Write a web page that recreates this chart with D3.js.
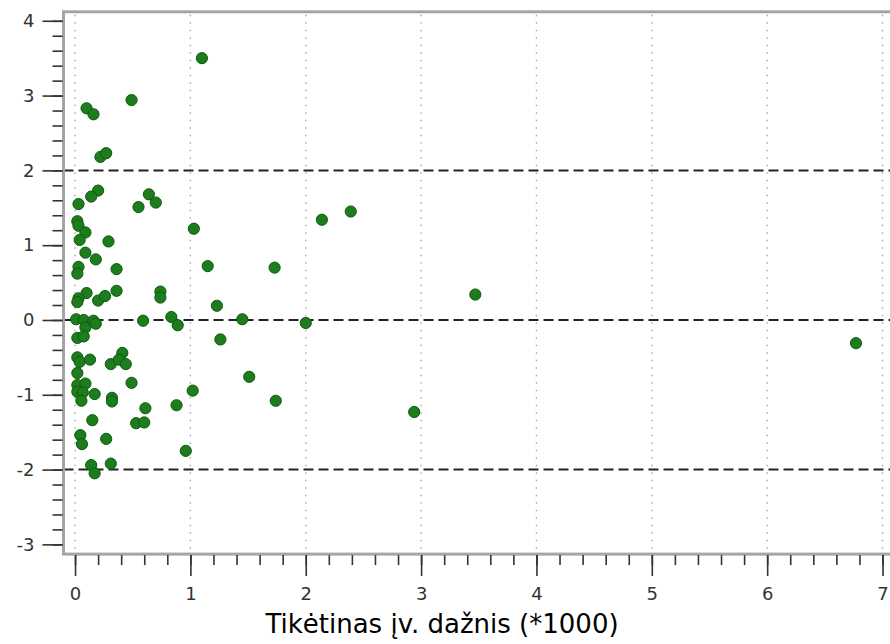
<!DOCTYPE html>
<html>
<head>
<meta charset="utf-8">
<script src="https://cdn.jsdelivr.net/npm/d3@7"></script>
<style>
  html, body { margin: 0; padding: 0; background: #fff; }
  svg { display: block; font-family: "DejaVu Sans", Verdana, sans-serif; }
</style>
</head>
<body>
<div id="chart"></div>
<script>
// tikėtinas įvykių dažnis (*1000) ir standartizuota liekana
const expected = [
  1.10, 0.49, 0.10, 0.16, 0.22, 0.27, 0.20, 0.14, 0.03, 0.64,
  0.70, 0.55, 0.02, 0.03, 0.09, 0.04, 0.29, 1.03, 2.14, 2.39,
  0.09, 0.18, 0.03, 0.02, 0.36, 1.15, 1.73, 0.10, 0.03, 0.02,
  0.20, 0.26, 0.36, 0.74, 0.74, 1.23, 3.47, 0.01, 0.075, 0.09,
  0.16, 0.18, 0.59, 0.835, 0.89, 1.45, 2.00, 1.26, 6.77, 0.02,
  0.075, 0.02, 0.04, 0.13, 0.31, 0.41, 0.38, 0.44, 0.02, 0.02,
  0.09, 0.02, 0.067, 0.17, 0.055, 0.32, 0.32, 0.49, 1.51, 1.02,
  0.88, 1.74, 0.61, 0.53, 0.60, 0.15, 0.046, 0.06, 0.27, 0.96,
  0.14, 0.17, 0.31, 2.94
];
const residual = [
  3.50, 2.94, 2.83, 2.75, 2.18, 2.23, 1.73, 1.65, 1.55, 1.68,
  1.57, 1.51, 1.32, 1.26, 1.17, 1.07, 1.05, 1.22, 1.34, 1.45,
  0.90, 0.81, 0.71, 0.62, 0.68, 0.72, 0.70, 0.36, 0.29, 0.24,
  0.26, 0.32, 0.39, 0.38, 0.30, 0.19, 0.34, 0.01, 0.00, -0.10,
  -0.01, -0.05, -0.01, 0.04, -0.07, 0.01, -0.04, -0.26, -0.31, -0.24,
  -0.22, -0.50, -0.56, -0.53, -0.59, -0.44, -0.53, -0.59, -0.71, -0.87,
  -0.85, -0.96, -0.97, -0.99, -1.08, -1.04, -1.09, -0.84, -0.76, -0.945,
  -1.14, -1.08, -1.18, -1.38, -1.37, -1.34, -1.54, -1.66, -1.59, -1.75,
  -1.94, -2.05, -1.92, -1.23
];
const xTicks = [0, 1, 2, 3, 4, 5, 6, 7];
const yTicks = [-3, -2, -1, 0, 1, 2, 3, 4];
const refLines = [-2, 0, 2];
const xLabel = "Tikėtinas įv. dažnis (*1000)";

const W = 890, H = 644;
const svg = d3.select("#chart").append("svg").attr("width", W).attr("height", H);

const x = d3.scaleLinear().domain([-0.1, 7.2]).range([63.5, 905.6]);
const y = d3.scaleLinear().domain([-3.13, 4.12]).range([554.1, 11.8]);
const [x0, x1] = x.range(), [yb, yt] = y.range();
const plain = d => String(d);   // hyphen minus, like the original

// vertical dotted grid
svg.append("g").selectAll("line").data(xTicks).join("line")
  .attr("x1", d => x(d)).attr("x2", d => x(d))
  .attr("y1", yt + 3).attr("y2", yb)
  .attr("stroke", "#a8a8a8").attr("stroke-width", 1.4)
  .attr("stroke-dasharray", "1.4,6.1");

// reference lines at -2, 0, 2
svg.append("g").selectAll("line").data(refLines).join("line")
  .attr("x1", x0).attr("x2", W)
  .attr("y1", d => y(d)).attr("y2", d => y(d))
  .attr("stroke", "#222").attr("stroke-width", 2)
  .attr("stroke-dasharray", "10,5");

// frame
svg.append("rect").attr("x", x0).attr("y", yt).attr("width", x1 - x0).attr("height", yb - yt)
  .attr("fill", "none").attr("stroke", "#a5a5a5").attr("stroke-width", 3);

// axes
const xAxis = svg.append("g").attr("transform", `translate(0,${yb + 1})`)
  .call(d3.axisBottom(x).tickValues(d3.range(0, 7.01, 0.2)).tickSize(10).tickFormat(""));
const xMajor = svg.append("g").attr("transform", `translate(0,${yb + 1})`)
  .call(d3.axisBottom(x).tickValues(xTicks).tickSize(21).tickPadding(11).tickFormat(plain));
const yAxis = svg.append("g").attr("transform", `translate(${x0 - 1},0)`)
  .call(d3.axisLeft(y).tickValues(d3.range(-3, 4.01, 0.2)).tickSize(10).tickFormat(""));
const yMajor = svg.append("g").attr("transform", `translate(${x0 - 1},0)`)
  .call(d3.axisLeft(y).tickValues(yTicks).tickSize(20).tickPadding(8).tickFormat(plain));

[xAxis, xMajor, yAxis, yMajor].forEach(g => {
  g.select(".domain").remove();
  g.selectAll(".tick line").attr("stroke", "#333").attr("stroke-width", 1.6);
  g.selectAll(".tick text").attr("fill", "#333").attr("font-size", 18)
    .attr("font-family", "'DejaVu Sans', Verdana, sans-serif");
});

svg.append("text").attr("x", 442).attr("y", 633).attr("text-anchor", "middle")
  .attr("font-size", 26).attr("fill", "#000").text(xLabel);

// points
svg.append("g").selectAll("circle").data(d3.range(expected.length)).join("circle")
  .attr("cx", i => x(expected[i])).attr("cy", i => y(residual[i]))
  .attr("r", 5.6)
  .attr("fill", "#1d7d1d").attr("stroke", "#0e5a0e").attr("stroke-width", 1);
</script>
</body>
</html>
